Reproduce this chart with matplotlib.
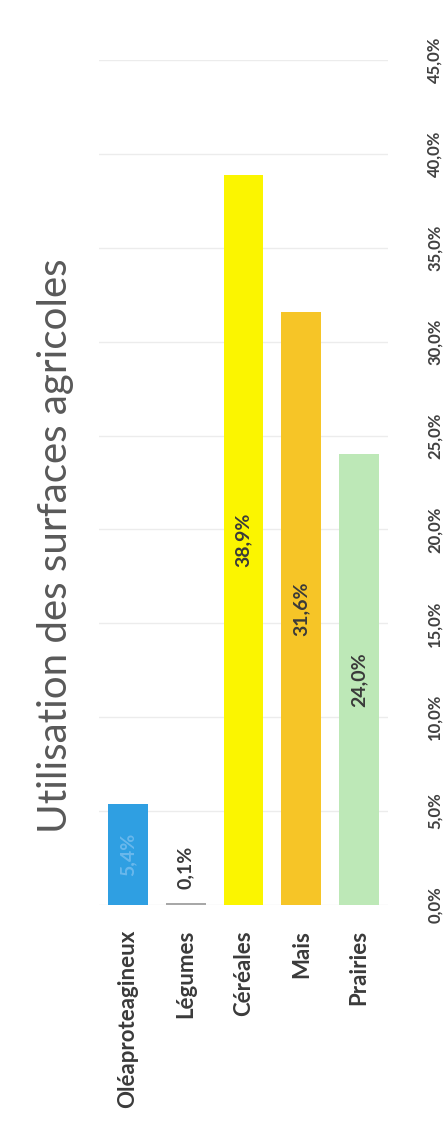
import matplotlib
matplotlib.use('Agg')
import matplotlib.pyplot as plt
from matplotlib.ticker import FuncFormatter

plt.rcParams['font.family'] = ['Lato', 'DejaVu Sans']

# données : part de la surface agricole par culture
cultures = ['Oléaproteagineux', 'Légumes', 'Céréales', 'Mais', 'Prairies']
parts = [5.4, 0.1, 38.9, 31.6, 24.0]
couleurs = ['#2f9fe2', '#a8a8a8', '#fbf500', '#f6c527', '#bde8b7']
etiquettes = ['5,4%', '0,1%', '38,9%', '31,6%', '24,0%']
graduations = [0, 5, 10, 15, 20, 25, 30, 35, 40, 45]

fig = plt.figure(figsize=(4.48, 11.34), dpi=100)
ax = fig.add_axes([0.221, 0.202, 0.645, 0.745])

pos = list(range(len(cultures)))
ax.bar(pos, parts, width=0.69, color=couleurs, zorder=2)

for i, (v, txt) in enumerate(zip(parts, etiquettes)):
    if v < 1:
        ax.annotate(txt, (i, v), xytext=(0, 10), textcoords='offset points',
                    rotation=90, ha='center', va='bottom', fontsize=14,
                    fontweight='bold', color='#3a3a3a')
    else:
        c = '#6ab8ec' if i == 0 else '#3a3a3a'
        ax.text(i, v / 2, txt, rotation=90, ha='center', va='center',
                fontsize=14, fontweight='bold', color=c, zorder=3)

ax.set_xlim(-0.5, len(cultures) - 0.5)
ax.set_ylim(0, 45)
ax.set_yticks(graduations)
ax.yaxis.set_major_formatter(FuncFormatter(lambda v, p: ('%.1f%%' % v).replace('.', ',')))
ax.yaxis.tick_right()
ax.tick_params(axis='y', length=0, pad=28, labelsize=12, labelcolor='#404040')
for lab in ax.get_yticklabels():
    lab.set_rotation(90)
    lab.set_va('center')
    lab.set_ha('left')
    lab.set_fontweight('bold')

ax.set_xticks(pos)
ax.set_xticklabels(cultures, rotation=90, fontsize=16, fontweight='bold', color='#3a3a3a')
ax.tick_params(axis='x', length=0, pad=18)

ax.grid(axis='y', color='#ececec', linewidth=1, zorder=0)
for s in ax.spines.values():
    s.set_visible(False)

fig.text(0.123, 0.519, 'Utilisation des surfaces agricoles', rotation=90,
         ha='center', va='center', fontsize=29, color='#595959')

fig.savefig('out.png', dpi=100, facecolor='white')
